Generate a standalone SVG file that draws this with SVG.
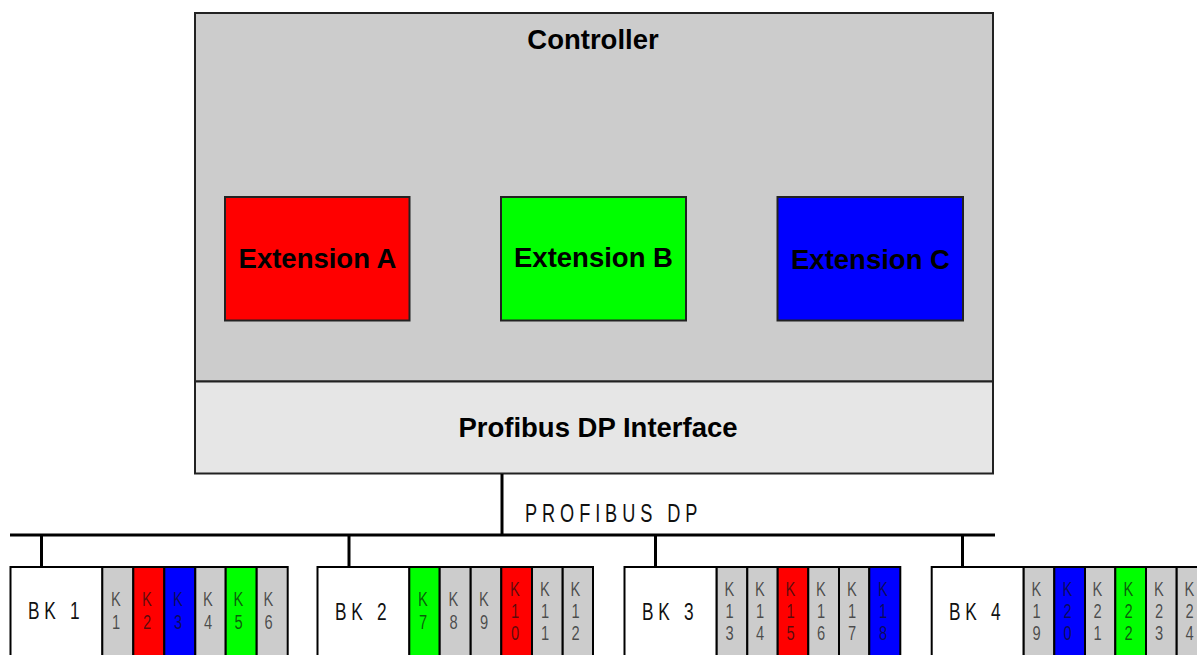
<svg xmlns="http://www.w3.org/2000/svg" width="1197" height="655" viewBox="0 0 1197 655">
<style>
.bold{font-family:"Liberation Sans",Arial,sans-serif;font-weight:bold;font-size:27.5px;fill:#000;text-anchor:middle}
.box{stroke:#222;stroke-width:2}
.mod{stroke:#000;stroke-width:2}
.bk{fill:#fff;stroke:#000;stroke-width:2}
.grey{fill:#cccccc}
.red{fill:#ff0000}
.green{fill:#00ff00}
.blue{fill:#0000ff}
.wire{stroke:#000;stroke-width:3;fill:none}
.cond{font-family:"Liberation Sans",Arial,sans-serif;fill:#111}
.bkl{font-size:24px;letter-spacing:6.5px}
.kl{font-size:21px;text-anchor:middle;fill-opacity:0.7}
</style>

<g id="controller">
<rect class="box" x="195" y="13" width="798" height="368.5" fill="#cccccc"/>
<text class="bold" x="593" y="49">Controller</text>
</g>
<g id="interface">
<rect class="box" x="195" y="381.5" width="798" height="92" fill="#e6e6e6"/>
<text class="bold" x="598" y="437">Profibus DP Interface</text>
</g>
<g id="extA">
<rect class="box red" x="225" y="197" width="184.5" height="123.5"/>
<text class="bold" x="317.5" y="268">Extension A</text>
</g>
<g id="extB">
<rect class="box green" x="501" y="197" width="185" height="123.5"/>
<text class="bold" x="593.5" y="267">Extension B</text>
</g>
<g id="extC">
<rect class="box blue" x="777.5" y="197" width="185.5" height="123.5"/>
<text class="bold" x="870.5" y="269">Extension C</text>
</g>

<g id="connectors">
<line class="wire" x1="502" y1="474" x2="502" y2="535"/>
<line class="wire" x1="10" y1="535" x2="995" y2="535"/>
<line class="wire" x1="41.5" y1="535" x2="41.5" y2="567"/>
<line class="wire" x1="349" y1="535" x2="349" y2="567"/>
<line class="wire" x1="655.5" y1="535" x2="655.5" y2="567"/>
<line class="wire" x1="962.5" y1="535" x2="962.5" y2="567"/>
</g>
<text class="cond" transform="translate(525 0) scale(0.7 1)" x="0" y="522" font-size="26" letter-spacing="7">PROFIBUS DP</text>

<g id="bk1">
<rect class="bk" x="10.5" y="567" width="92" height="100"/>
<text class="cond bkl" transform="translate(28 0) scale(0.72 1)" x="0" y="619">BK 1</text>
<rect class="mod grey" x="102.3" y="567" width="31" height="100"/>
<rect class="mod red" x="133.3" y="567" width="31" height="100"/>
<rect class="mod blue" x="164.3" y="567" width="31" height="100"/>
<rect class="mod grey" x="195.3" y="567" width="30.4" height="100"/>
<rect class="mod green" x="225.7" y="567" width="31" height="100"/>
<rect class="mod grey" x="256.7" y="567" width="31" height="100"/>
<text class="cond kl" transform="translate(116 0) scale(0.7 1)"><tspan x="0" y="606">K</tspan><tspan x="0" y="629.5">1</tspan></text>
<text class="cond kl" transform="translate(147 0) scale(0.7 1)"><tspan x="0" y="606">K</tspan><tspan x="0" y="629.5">2</tspan></text>
<text class="cond kl" transform="translate(178 0) scale(0.7 1)"><tspan x="0" y="606">K</tspan><tspan x="0" y="629.5">3</tspan></text>
<text class="cond kl" transform="translate(208 0) scale(0.7 1)"><tspan x="0" y="606">K</tspan><tspan x="0" y="629.5">4</tspan></text>
<text class="cond kl" transform="translate(238.5 0) scale(0.7 1)"><tspan x="0" y="606">K</tspan><tspan x="0" y="629.5">5</tspan></text>
<text class="cond kl" transform="translate(268.5 0) scale(0.7 1)"><tspan x="0" y="606">K</tspan><tspan x="0" y="629.5">6</tspan></text>
</g>

<g id="bk2">
<rect class="bk" x="317.5" y="567" width="92" height="100"/>
<text class="cond bkl" transform="translate(335 0) scale(0.72 1)" x="0" y="620">BK 2</text>
<rect class="mod green" x="409.3" y="567" width="30.4" height="100"/>
<rect class="mod grey" x="439.7" y="567" width="31" height="100"/>
<rect class="mod grey" x="470.7" y="567" width="30.6" height="100"/>
<rect class="mod red" x="501.3" y="567" width="30.7" height="100"/>
<rect class="mod grey" x="532" y="567" width="30.7" height="100"/>
<rect class="mod grey" x="562.7" y="567" width="30.3" height="100"/>
<text class="cond kl" transform="translate(423 0) scale(0.7 1)"><tspan x="0" y="606">K</tspan><tspan x="0" y="629.5">7</tspan></text>
<text class="cond kl" transform="translate(453.5 0) scale(0.7 1)"><tspan x="0" y="606">K</tspan><tspan x="0" y="629.5">8</tspan></text>
<text class="cond kl" transform="translate(484 0) scale(0.7 1)"><tspan x="0" y="606">K</tspan><tspan x="0" y="629.5">9</tspan></text>
<text class="cond kl" transform="translate(515 0) scale(0.7 1)"><tspan x="0" y="596">K</tspan><tspan x="0" y="618">1</tspan><tspan x="0" y="640">0</tspan></text>
<text class="cond kl" transform="translate(545 0) scale(0.7 1)"><tspan x="0" y="596">K</tspan><tspan x="0" y="618">1</tspan><tspan x="0" y="640">1</tspan></text>
<text class="cond kl" transform="translate(575.5 0) scale(0.7 1)"><tspan x="0" y="596">K</tspan><tspan x="0" y="618">1</tspan><tspan x="0" y="640">2</tspan></text>
</g>

<g id="bk3">
<rect class="bk" x="624.5" y="567" width="92.2" height="100"/>
<text class="cond bkl" transform="translate(642 0) scale(0.72 1)" x="0" y="620">BK 3</text>
<rect class="mod grey" x="716.7" y="567" width="30.6" height="100"/>
<rect class="mod grey" x="747.3" y="567" width="30.4" height="100"/>
<rect class="mod red" x="777.7" y="567" width="30.6" height="100"/>
<rect class="mod grey" x="808.3" y="567" width="30.7" height="100"/>
<rect class="mod grey" x="839" y="567" width="30.3" height="100"/>
<rect class="mod blue" x="869.3" y="567" width="31" height="100"/>
<text class="cond kl" transform="translate(729.5 0) scale(0.7 1)"><tspan x="0" y="596">K</tspan><tspan x="0" y="618">1</tspan><tspan x="0" y="640">3</tspan></text>
<text class="cond kl" transform="translate(760 0) scale(0.7 1)"><tspan x="0" y="596">K</tspan><tspan x="0" y="618">1</tspan><tspan x="0" y="640">4</tspan></text>
<text class="cond kl" transform="translate(790.5 0) scale(0.7 1)"><tspan x="0" y="596">K</tspan><tspan x="0" y="618">1</tspan><tspan x="0" y="640">5</tspan></text>
<text class="cond kl" transform="translate(821 0) scale(0.7 1)"><tspan x="0" y="596">K</tspan><tspan x="0" y="618">1</tspan><tspan x="0" y="640">6</tspan></text>
<text class="cond kl" transform="translate(852 0) scale(0.7 1)"><tspan x="0" y="596">K</tspan><tspan x="0" y="618">1</tspan><tspan x="0" y="640">7</tspan></text>
<text class="cond kl" transform="translate(883 0) scale(0.7 1)"><tspan x="0" y="596">K</tspan><tspan x="0" y="618">1</tspan><tspan x="0" y="640">8</tspan></text>
</g>

<g id="bk4">
<rect class="bk" x="931.7" y="567" width="92" height="100"/>
<text class="cond bkl" transform="translate(949 0) scale(0.72 1)" x="0" y="620">BK 4</text>
<rect class="mod grey" x="1023.7" y="567" width="30.6" height="100"/>
<rect class="mod blue" x="1054.3" y="567" width="30.7" height="100"/>
<rect class="mod grey" x="1085" y="567" width="30.3" height="100"/>
<rect class="mod green" x="1115.3" y="567" width="30.7" height="100"/>
<rect class="mod grey" x="1146" y="567" width="30.7" height="100"/>
<rect class="mod grey" x="1176.7" y="567" width="30.3" height="100"/>
<text class="cond kl" transform="translate(1036.5 0) scale(0.7 1)"><tspan x="0" y="596">K</tspan><tspan x="0" y="618">1</tspan><tspan x="0" y="640">9</tspan></text>
<text class="cond kl" transform="translate(1067.5 0) scale(0.7 1)"><tspan x="0" y="596">K</tspan><tspan x="0" y="618">2</tspan><tspan x="0" y="640">0</tspan></text>
<text class="cond kl" transform="translate(1097.5 0) scale(0.7 1)"><tspan x="0" y="596">K</tspan><tspan x="0" y="618">2</tspan><tspan x="0" y="640">1</tspan></text>
<text class="cond kl" transform="translate(1128.5 0) scale(0.7 1)"><tspan x="0" y="596">K</tspan><tspan x="0" y="618">2</tspan><tspan x="0" y="640">2</tspan></text>
<text class="cond kl" transform="translate(1159 0) scale(0.7 1)"><tspan x="0" y="596">K</tspan><tspan x="0" y="618">2</tspan><tspan x="0" y="640">3</tspan></text>
<text class="cond kl" transform="translate(1189.5 0) scale(0.7 1)"><tspan x="0" y="596">K</tspan><tspan x="0" y="618">2</tspan><tspan x="0" y="640">4</tspan></text>
</g>
</svg>
